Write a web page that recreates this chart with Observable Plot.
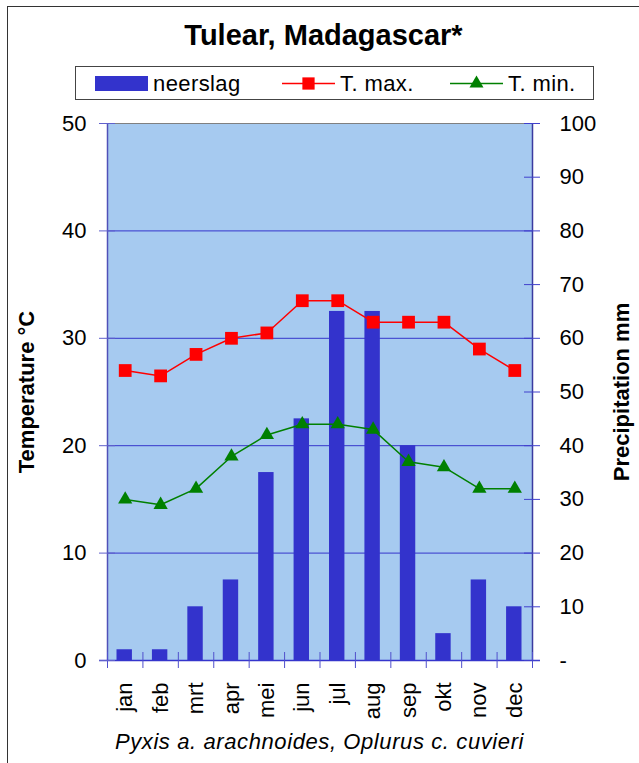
<!DOCTYPE html>
<html><head><meta charset="utf-8">
<script src="https://cdn.jsdelivr.net/npm/d3@7"></script>
<script src="https://cdn.jsdelivr.net/npm/@observablehq/plot@0.6"></script>
<style>
html,body{margin:0;padding:0;background:#fff;overflow:hidden;width:639px;height:763px;}
#wrap{position:relative;width:639px;height:763px;overflow:hidden;font-family:"Liberation Sans",Arial,Helvetica,sans-serif;color:#000;}
#frame{position:absolute;left:7px;top:6px;width:720px;height:820px;border:1.5px solid #333;box-sizing:border-box;}
#title{position:absolute;left:8px;right:0;top:20.5px;text-align:center;font-weight:bold;font-size:29px;line-height:29px;}
#legend{position:absolute;left:75px;top:66px;}
#chart{position:absolute;left:0;top:105px;}
#caption{position:absolute;left:0;right:0;top:730.5px;text-align:center;font-style:italic;font-size:22px;line-height:22px;letter-spacing:0.6px;}
</style></head>
<body><div id="wrap">
<div id="frame"></div>
<div id="title"></div>
<div id="legend"></div>
<div id="chart"></div>
<div id="caption"></div>
</div>
<script>
const titleText = "Tulear, Madagascar*";
const captionText = "Pyxis a. arachnoides, Oplurus c. cuvieri";
const months = ["jan","feb","mrt","apr","mei","jun","jul","aug","sep","okt","nov","dec"];
const precipitation = [2,2,10,15,35,45,65,65,40,5,15,10];
const tMax = [27,26.5,28.5,30,30.5,33.5,33.5,31.5,31.5,31.5,29,27];
const tMin = [15,14.5,16,19,21,22,22,21.5,18.5,18,16,16];
const seriesNames = ["neerslag","T. max.","T. min."];
const seriesColors = ["#3333cc","#ff0000","#008000"];
const tempTicks = [0,10,20,30,40,50];
const tempGrid = [10,20,30,40];
const precipTicks = [0,10,20,30,40,50,60,70,80,90,100];
const precipTickLabels = ["-","10","20","30","40","50","60","70","80","90","100"];
const axisTitles = ["Temperature °C","Precipitation mm"];

document.getElementById("title").textContent = titleText;
document.getElementById("caption").textContent = captionText;

// legend
(function(){
  const W = 518, H = 33;
  const svg = d3.select("#legend").append("svg").attr("width", W+1).attr("height", H+1)
    .style("font-family", "Liberation Sans, Arial, sans-serif").style("font-size","22px");
  svg.append("rect").attr("x",0.5).attr("y",0.5).attr("width",W).attr("height",H)
    .attr("fill","#fff").attr("stroke","#444").attr("stroke-width",1);
  const offs = [20, 207, 375];
  seriesNames.forEach((name, k) => {
    const x0 = offs[k];
    if (k === 0) {
      svg.append("rect").attr("x", x0).attr("y", 10).attr("width", 53).attr("height", 15).attr("fill", seriesColors[0]);
    } else {
      svg.append("line").attr("x1", x0).attr("x2", x0+53).attr("y1", 17.5).attr("y2", 17.5)
        .attr("stroke", seriesColors[k]).attr("stroke-width", 1.5);
      const sym = k === 1 ? d3.symbolSquare : d3.symbolTriangle;
      const size = k === 1 ? 150 : 85;
      svg.append("path").attr("d", d3.symbol(sym, size)()).attr("transform", `translate(${x0+26.5},17.5)`)
        .attr("fill", seriesColors[k]);
    }
    svg.append("text").attr("x", x0+58).attr("y", 24.5).attr("letter-spacing", "0.4px").text(name);
  });
})();

const data = months.map((m, i) => ({m, i, p: precipitation[i], tmax: tMax[i], tmin: tMin[i]}));
const xDomain = [0, months.length];
const boundaries = d3.range(months.length + 1);
const precipToTemp = p => p / 2;

const plot = Plot.plot({
  width: 639,
  height: 625,
  marginTop: 18,
  marginBottom: 70,
  marginLeft: 107,
  marginRight: 107,
  style: {fontFamily: "Liberation Sans, Arial, sans-serif", fontSize: "22px", background: "transparent", overflow: "visible"},
  x: {type: "linear", domain: xDomain, axis: null},
  y: {type: "linear", domain: [0, 50], axis: null},
  marks: [
    Plot.frame({fill: "#a6caf0", stroke: null}),
    Plot.ruleY(tempGrid, {stroke: "#3535cc", strokeWidth: 1}),
    Plot.ruleY([tempTicks[tempTicks.length-1]], {stroke: "#808080", strokeWidth: 1.2}),
    Plot.rectY(data, {x1: d => d.i, x2: d => d.i + 1, y: d => precipToTemp(d.p), fill: seriesColors[0], insetLeft: 9.5, insetRight: 10.5}),
    Plot.ruleX([xDomain[0]], {stroke: "#5050b8", strokeWidth: 1.5}),
    Plot.ruleX([xDomain[1]], {stroke: "#3a3aa0", strokeWidth: 1.5}),
    Plot.ruleY([0], {stroke: "#3535cc", strokeWidth: 1.5, insetLeft: -8, insetRight: -8}),
    Plot.ruleX(boundaries, {x: d => d, y1: () => 0, y2: () => 0, insetTop: -8, insetBottom: -8, stroke: "#5050cc", strokeWidth: 1}),
    Plot.ruleY(tempTicks, {y: d => d, x1: () => xDomain[0], x2: () => xDomain[0], insetLeft: -8, insetRight: -8, stroke: "#6060cc", strokeWidth: 1}),
    Plot.ruleY(precipTicks, {y: precipToTemp, x1: () => xDomain[1], x2: () => xDomain[1], insetLeft: -8, insetRight: -8, stroke: "#4040cc", strokeWidth: 1}),
    Plot.lineY(data, {x: d => d.i + 0.5, y: "tmax", stroke: seriesColors[1], strokeWidth: 1.5}),
    Plot.dot(data, {x: d => d.i + 0.5, y: "tmax", symbol: "square", r: 7.2, fill: seriesColors[1], stroke: null}),
    Plot.lineY(data, {x: d => d.i + 0.5, y: "tmin", stroke: seriesColors[2], strokeWidth: 1.5}),
    Plot.dot(data, {x: d => d.i + 0.5, y: "tmin", symbol: "triangle", r: 5.3, fill: seriesColors[2], stroke: null}),
    Plot.axisY(tempTicks, {anchor: "left", tickSize: 0, tickPadding: 21, fontSize: 22, label: null}),
    Plot.axisY(precipTicks.map(precipToTemp), {anchor: "right", tickSize: 0, tickPadding: 27, fontSize: 22, label: null,
      tickFormat: d => precipTickLabels[precipTicks.indexOf(d * 2)]}),
    Plot.text(data, {x: d => d.i + 0.5, y: () => 0, text: "m", rotate: -90, textAnchor: "end", dy: 22, fontSize: 22}),
    Plot.text([axisTitles[0]], {frameAnchor: "left", textAnchor: "middle", dx: -81, rotate: -90, fontWeight: "bold", fontSize: 22, letterSpacing: "0.5px"}),
    Plot.text([axisTitles[1]], {frameAnchor: "right", textAnchor: "middle", dx: 89, rotate: -90, fontWeight: "bold", fontSize: 22, letterSpacing: "0.5px"})
  ]
});
document.getElementById("chart").appendChild(plot);
</script>
</body></html>
